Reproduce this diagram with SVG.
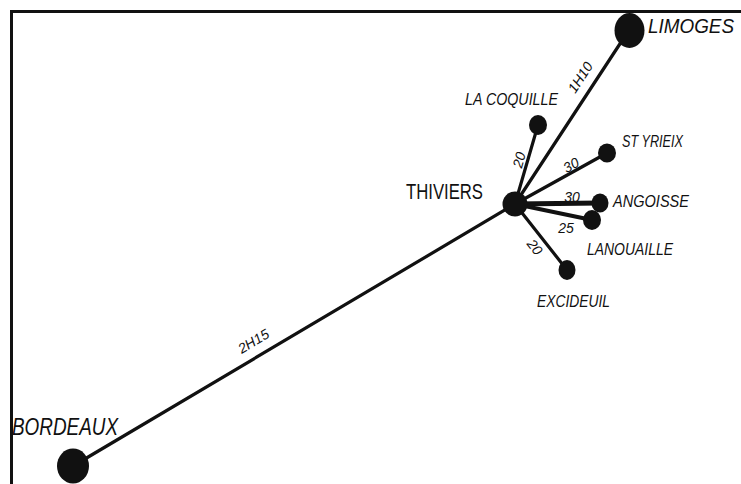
<svg xmlns="http://www.w3.org/2000/svg" width="741" height="484" viewBox="0 0 741 484">
<style>
.frame{fill:none;stroke:#111;stroke-width:3}
.edge{stroke:#111;stroke-width:3.2;stroke-linecap:round}
.dot{fill:#111}
.big{font-family:"Liberation Sans",Arial,sans-serif;font-size:23px;font-style:italic;fill:#111}
.lab{font-family:"Liberation Sans",Arial,sans-serif;font-size:17px;font-style:italic;fill:#111}
.num{font-family:"Liberation Sans",Arial,sans-serif;font-size:14px;font-style:italic;fill:#111}
</style>
<rect width="741" height="484" fill="#fff"/>
<path class="frame" d="M11.5 484 V11.5 H741"/>
<g id="connectors">
<line class="edge" x1="515" y1="204" x2="629" y2="30"/>
<line class="edge" x1="515" y1="204" x2="73" y2="466"/>
<line class="edge" x1="515" y1="204" x2="538" y2="125"/>
<line class="edge" x1="515" y1="204" x2="607" y2="153"/>
<line class="edge" x1="515" y1="204" x2="600" y2="203" style="stroke-width:5"/>
<line class="edge" x1="515" y1="204" x2="592" y2="220" style="stroke-width:4"/>
<line class="edge" x1="515" y1="204" x2="567" y2="270"/>
<text class="num" transform="translate(586,81) rotate(-57)" text-anchor="middle" dy="-2">1H10</text>
<text class="num" transform="translate(257,347) rotate(-31)" text-anchor="middle" dy="-2">2H15</text>
<text class="num" transform="translate(519,160) rotate(-74)" text-anchor="middle" dy="5">20</text>
<text class="num" transform="translate(571,165) rotate(-29)" text-anchor="middle" dy="5">30</text>
<text class="num" x="572" y="202" text-anchor="middle">30</text>
<text class="num" x="566" y="233" text-anchor="middle">25</text>
<text class="num" transform="translate(535,247) rotate(52)" text-anchor="middle" dy="5">20</text>
</g>
<g id="limoges"><ellipse class="dot" cx="629.5" cy="30.5" rx="15" ry="17.5"/><text class="big" x="648" y="33" textLength="86" lengthAdjust="spacingAndGlyphs" style="font-size:20px">LIMOGES</text></g>
<g id="thiviers"><circle class="dot" cx="515" cy="204" r="12.5"/><text x="406" y="199" textLength="77" lengthAdjust="spacingAndGlyphs" style="font-family:'Liberation Sans',Arial,sans-serif;font-size:22px;fill:#111">THIVIERS</text></g>
<g id="lacoquille"><ellipse class="dot" cx="538" cy="125" rx="9" ry="10"/><text class="lab" x="465" y="105" textLength="93" lengthAdjust="spacingAndGlyphs">LA COQUILLE</text></g>
<g id="styrieix"><ellipse class="dot" cx="607" cy="153" rx="9" ry="9.5"/><text class="lab" x="622" y="147" textLength="61" lengthAdjust="spacingAndGlyphs">ST YRIEIX</text></g>
<g id="angoisse"><ellipse class="dot" cx="600" cy="203" rx="8.5" ry="9.5"/><text class="lab" x="613" y="207" textLength="76" lengthAdjust="spacingAndGlyphs">ANGOISSE</text></g>
<g id="lanouaille"><ellipse class="dot" cx="592" cy="220" rx="9" ry="10"/><text class="lab" x="587" y="255" textLength="86" lengthAdjust="spacingAndGlyphs">LANOUAILLE</text></g>
<g id="excideuil"><ellipse class="dot" cx="567" cy="270" rx="8.5" ry="10"/><text class="lab" x="537" y="307" textLength="73" lengthAdjust="spacingAndGlyphs">EXCIDEUIL</text></g>
<g id="bordeaux"><ellipse class="dot" cx="73" cy="466" rx="16" ry="17.5"/><text class="big" x="12" y="435" textLength="106" lengthAdjust="spacingAndGlyphs">BORDEAUX</text></g>
</svg>
